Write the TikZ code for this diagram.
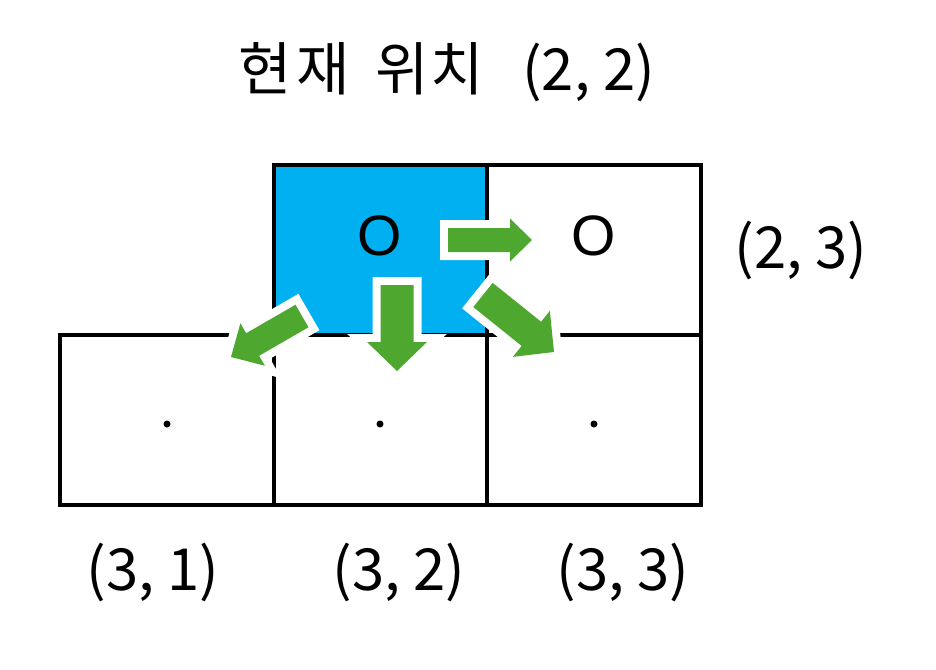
\documentclass[tikz,border=0pt]{standalone}
\usepackage{fontspec}
\setmainfont{Liberation Sans}
\newfontfamily\krfont{Noto Sans CJK KR}
\usetikzlibrary{calc}
\definecolor{cellblue}{HTML}{00B0F0}
\definecolor{arrgreen}{HTML}{4EA72E}
\tikzset{
  cell/.style={draw=black, line width=4pt, minimum width=213.7pt, minimum height=170pt, inner sep=0pt, outer sep=0pt},
  mark O/.style={font=\fontsize{57}{60}\selectfont, inner sep=0pt},
  celldot/.style={circle, fill=black, inner sep=0pt, minimum size=7pt},
  lbl/.style={font=\krfont\fontsize{58}{62}\selectfont, inner sep=0pt},
  arrowpath/.style={fill=arrgreen, preaction={draw=white, line width=16pt, line join=miter}}
}
\newcommand{\garrow}[5]{%
  \coordinate (hb) at ($(#2)!#5!(#1)$);
  \path[arrowpath] ($(#1)!#3!90:(#2)$) -- ($(hb)!#3!-90:(#1)$) -- ($(hb)!#4!-90:(#1)$) -- (#2)
     -- ($(hb)!#4!90:(#1)$) -- ($(hb)!#3!90:(#1)$) -- ($(#1)!#3!-90:(#2)$) -- cycle;
}
\begin{document}
\begin{tikzpicture}[x=1pt, y=-1pt]
\useasboundingbox (0,0) rectangle (936,669);
% cells
\node[cell, fill=cellblue] (c22) at (380.5,250) {};
\node[cell] (c23) at (594.2,250) {};
\node[cell] (c31) at (166.8,419.5) {};
\node[cell] (c32) at (380.5,419.5) {};
\node[cell] (c33) at (594.2,419.5) {};
% marks
\node[mark O] (o22) at (380,236) {O};
\node[mark O] (o23) at (594,236) {O};
\node[celldot] (d31) at (167,424) {};
\node[celldot] (d32) at (380,424) {};
\node[celldot] (d33) at (594,424) {};
% labels
\node[lbl] (title) at (447,72) {현\hspace{4pt}재\hspace{26pt}위\hspace{2pt}치\hspace{38pt}(2, 2)};
\node[lbl] (l23) at (801,250) {(2, 3)};
\node[lbl] (l31) at (153,572) {(3, 1)};
\node[lbl] (l32) at (399,572) {(3, 2)};
\node[lbl] (l33) at (623,572) {(3, 3)};
% arrows
\coordinate (ra1) at (448,240); \coordinate (ra2) at (532,240);
\coordinate (da1) at (397,285); \coordinate (da2) at (397,371);
\coordinate (la1) at (302,316); \coordinate (la2) at (231,357);
\coordinate (ma1) at (483,295); \coordinate (ma2) at (554,352);
\garrow{ra1}{ra2}{12pt}{21.5pt}{22pt}
\garrow{da1}{da2}{16.5pt}{30pt}{29pt}
\garrow{la1}{la2}{13pt}{24.5pt}{25pt}
\garrow{ma1}{ma2}{15.5pt}{29.5pt}{29pt}
\end{tikzpicture}
\end{document}
